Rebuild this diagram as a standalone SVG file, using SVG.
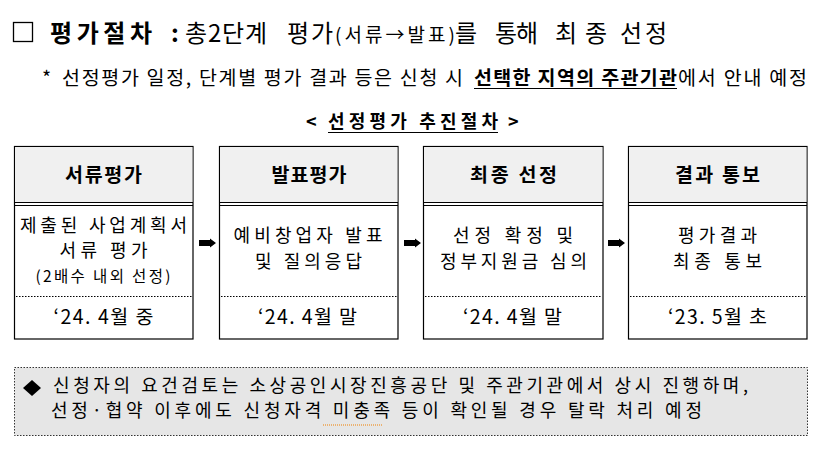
<svg xmlns="http://www.w3.org/2000/svg" xmlns:xlink="http://www.w3.org/1999/xlink" width="829" height="453" viewBox="0 0 829 453">
<style>
text{font-family:"Noto Sans CJK KR","Liberation Sans",sans-serif;fill:#000;}
.t{font-size:24px;}
.b{font-weight:bold;}
.s{font-size:19.5px;}
.c{font-size:18px;}
.m{text-anchor:middle;}
.box{fill:#fff;stroke:#000;stroke-width:1.2;}
.hdr{fill:#f0f0f0;}
.dl{stroke:#000;stroke-width:1;}
.dot{stroke:#000;stroke-width:1;stroke-dasharray:1.5 1.5;}
</style>
<defs>
<path id="arr" d="M0,-3 H11 V-4.5 L17,0 L11,4.5 V3 H0 Z" fill="#000"/>
</defs>
<rect width="829" height="453" fill="#fff"/>

<g id="title">
<rect x="13.5" y="22.5" width="19" height="19" fill="none" stroke="#000" stroke-width="1.3"/>
<text class="t b" x="50" y="42" textLength="102">평가절차</text>
<text class="t b" x="171" y="42">:</text>
<text class="t" x="185" y="42" textLength="82">총2단계</text>
<text class="t" x="287" y="42" textLength="46">평가</text>
<text x="335" y="42" font-size="19" textLength="120">(서류→발표)</text>
<text class="t" x="455" y="42" textLength="25">를</text>
<text class="t" x="495" y="42" textLength="43">통해</text>
<text class="t" x="555" y="42" textLength="52">최종</text>
<text class="t" x="620" y="42" textLength="47">선정</text>
</g>

<g id="note">
<text class="s" x="42" y="84.5">*</text>
<text class="s" x="62" y="84.5" textLength="401">선정평가 일정, 단계별 평가 결과 등은 신청 시</text>
<text class="s b" x="474" y="84.5" textLength="203">선택한 지역의 주관기관</text>
<line x1="474" y1="88.5" x2="677" y2="88.5" stroke="#000" stroke-width="1.2"/>
<text class="s" x="678" y="84.5" textLength="129">에서 안내 예정</text>
</g>

<g id="subheading">
<text class="b" font-size="18" x="306" y="128">&lt;</text>
<text class="b" font-size="18" x="328" y="128" textLength="170">선정평가 추진절차</text>
<line x1="328" y1="132.5" x2="498" y2="132.5" stroke="#000" stroke-width="1.2"/>
<text class="b" font-size="18" x="508" y="128">&gt;</text>
</g>

<g id="node1">
<rect class="box" x="14.5" y="146.5" width="178.5" height="192.5"/>
<rect class="hdr" x="15.1" y="147.1" width="177.3" height="55"/>
<line class="dl" x1="14.5" y1="202.5" x2="193" y2="202.5"/>
<line class="dl" x1="14.5" y1="205.5" x2="193" y2="205.5"/>
<line class="dot" x1="16" y1="296.5" x2="192" y2="296.5"/>
<text class="s b m" x="103.5" y="182" textLength="77">서류평가</text>
<text class="c m" x="103.5" y="232" textLength="167">제출된 사업계획서</text>
<text class="c m" x="103.5" y="257" textLength="88">서류 평가</text>
<text class="m" font-size="15.5" x="103" y="281.5" textLength="135">(2배수 내외 선정)</text>
<text class="s m" x="103.5" y="324" textLength="100">‘24. 4월 중</text>
</g>

<g id="node2">
<rect class="box" x="219.5" y="146.5" width="178.5" height="192.5"/>
<rect class="hdr" x="220.1" y="147.1" width="177.3" height="55"/>
<line class="dl" x1="219.5" y1="202.5" x2="398" y2="202.5"/>
<line class="dl" x1="219.5" y1="205.5" x2="398" y2="205.5"/>
<line class="dot" x1="221" y1="296.5" x2="397" y2="296.5"/>
<text class="s b m" x="309" y="182" textLength="75">발표평가</text>
<text class="c m" x="308" y="242" textLength="149">예비창업자 발표</text>
<text class="c m" x="308.5" y="268" textLength="107">및 질의응답</text>
<text class="s m" x="307.5" y="324" textLength="99">‘24. 4월 말</text>
</g>

<g id="node3">
<rect class="box" x="423.5" y="146.5" width="179.5" height="192.5"/>
<rect class="hdr" x="424.1" y="147.1" width="178.3" height="55"/>
<line class="dl" x1="423.5" y1="202.5" x2="603" y2="202.5"/>
<line class="dl" x1="423.5" y1="205.5" x2="603" y2="205.5"/>
<line class="dot" x1="425" y1="296.5" x2="602" y2="296.5"/>
<text class="s b m" x="513.5" y="182" textLength="87">최종 선정</text>
<text class="c m" x="513" y="242" textLength="120">선정 확정 및</text>
<text class="c m" x="513.5" y="268" textLength="147">정부지원금 심의</text>
<text class="s m" x="512.5" y="324" textLength="99">‘24. 4월 말</text>
</g>

<g id="node4">
<rect class="box" x="628.5" y="146.5" width="178.5" height="192.5"/>
<rect class="hdr" x="629.1" y="147.1" width="177.3" height="55"/>
<line class="dl" x1="628.5" y1="202.5" x2="807" y2="202.5"/>
<line class="dl" x1="628.5" y1="205.5" x2="807" y2="205.5"/>
<line class="dot" x1="630" y1="296.5" x2="806" y2="296.5"/>
<text class="s b m" x="717.5" y="182" textLength="85">결과 통보</text>
<text class="c m" x="717.5" y="242" textLength="79">평가결과</text>
<text class="c m" x="717.5" y="268" textLength="89">최종 통보</text>
<text class="s m" x="717.5" y="324" textLength="99">‘23. 5월 초</text>
</g>

<g id="connectors">
<use xlink:href="#arr" href="#arr" x="199" y="243"/>
<use xlink:href="#arr" href="#arr" x="404" y="243"/>
<use xlink:href="#arr" href="#arr" x="608" y="243"/>
</g>

<g id="notice">
<rect x="14.5" y="367.5" width="793" height="68" fill="#e6e6e6" stroke="#333" stroke-width="1" stroke-dasharray="1.5 1.5"/>
<polygon points="32,380 41,388 32,396 23,388" fill="#000"/>
<text class="c" x="53" y="392" textLength="695">신청자의 요건검토는 소상공인시장진흥공단 및 주관기관에서 상시 진행하며,</text>
<text class="c" x="51" y="416.5" textLength="651">선정·협약 이후에도 신청자격 미충족 등이 확인될 경우 탈락 처리 예정</text>
<line x1="323" y1="425" x2="383" y2="425" stroke="#f08000" stroke-width="1.2" stroke-dasharray="1 1"/>
</g>
</svg>
